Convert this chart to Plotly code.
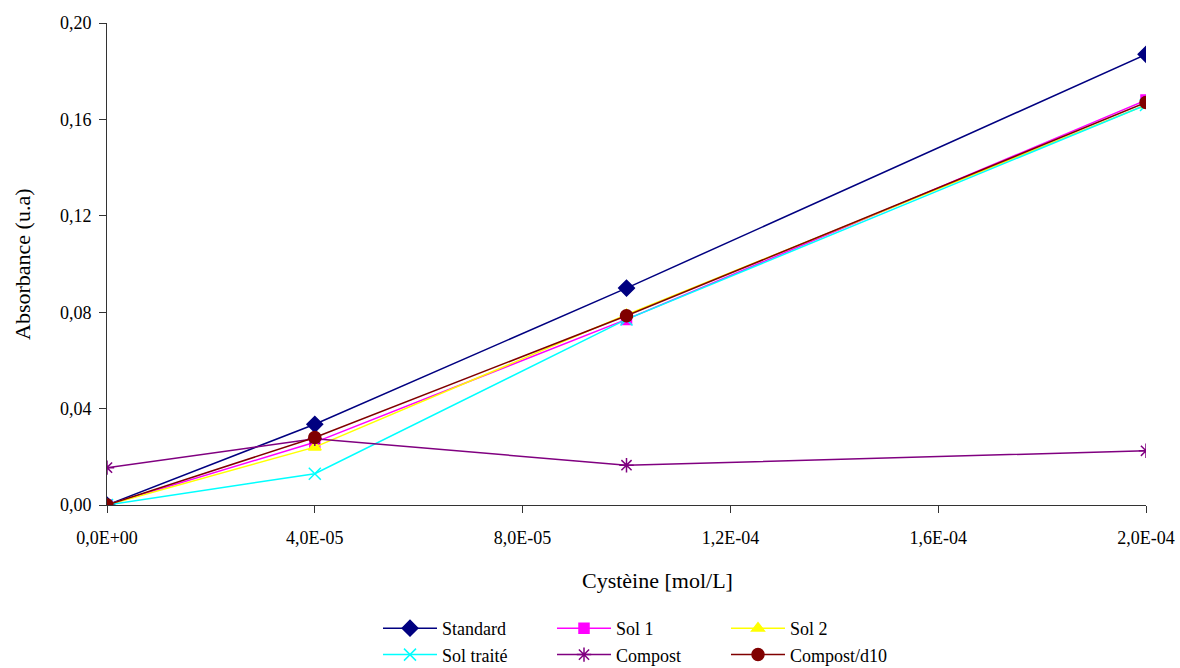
import plotly.graph_objects as go

x_vals = [0.0, 4e-5, 1e-4, 2e-4]
standard = [0.000, 0.0335, 0.090, 0.187]
sol1 = [0.000, 0.026, 0.077, 0.168]
sol2 = [0.000, 0.024, 0.079, 0.166]
sol_traite = [0.000, 0.013, 0.077, 0.166]
compost = [0.0155, 0.0275, 0.0165, 0.0225]
compost_d10 = [0.000, 0.028, 0.0785, 0.167]

x_tickvals = [0.0, 4e-5, 8e-5, 1.2e-4, 1.6e-4, 2e-4]
x_ticktext = ["0,0E+00", "4,0E-05", "8,0E-05", "1,2E-04", "1,6E-04", "2,0E-04"]
y_tickvals = [0.0, 0.04, 0.08, 0.12, 0.16, 0.20]
y_ticktext = ["0,00", "0,04", "0,08", "0,12", "0,16", "0,20"]

series = [
    ("Standard", standard, "#000080", "diamond", 12, "g1"),
    ("Sol 1", sol1, "#FF00FF", "square", 10, "g2"),
    ("Sol 2", sol2, "#FFFF00", "triangle-up", 11, "g3"),
    ("Sol traité", sol_traite, "#00FFFF", "x-thin-open", 12, "g1"),
    ("Compost", compost, "#800080", "asterisk-open", 12, "g2"),
    ("Compost/d10", compost_d10, "#800000", "circle", 12, "g3"),
]

FONT = "Liberation Serif"
fig = go.Figure()
for name, vals, color, sym, size, grp in series:
    fig.add_trace(go.Scatter(
        x=x_vals, y=vals, name=name, mode="lines+markers",
        legendgroup=grp,
        line=dict(color=color, width=1.5),
        marker=dict(symbol=sym, size=size, color=color,
                    line=dict(color=color, width=1.5)),
    ))

fig.update_layout(
    width=1180, height=668,
    margin=dict(l=107, r=34, t=23, b=163, autoexpand=False),
    paper_bgcolor="white", plot_bgcolor="white",
    font=dict(family=FONT, size=18, color="black"),
    showlegend=True,
    legend=dict(
        orientation="h", traceorder="grouped",
        x=(378 - 107) / 1039, xanchor="left",
        yref="container", y=1 - 610 / 668, yanchor="top",
        entrywidth=105, entrywidthmode="pixels", itemwidth=54,
        font=dict(family=FONT, size=18, color="black"),
        bgcolor="rgba(0,0,0,0)",
    ),
    xaxis=dict(
        range=[0, 2e-4], tickvals=x_tickvals, ticktext=x_ticktext,
        showgrid=False, zeroline=False, showline=True, linecolor="#333",
        linewidth=1, ticks="outside", ticklen=7, tickcolor="#333",
        ticklabelstandoff=9,
        tickfont=dict(family=FONT, size=18), automargin=False,
    ),
    yaxis=dict(
        range=[0, 0.20], tickvals=y_tickvals, ticktext=y_ticktext,
        showgrid=False, zeroline=False, showline=True, linecolor="#333",
        linewidth=1, ticks="outside", ticklen=7, tickcolor="#333",
        ticklabelstandoff=4,
        tickfont=dict(family=FONT, size=18), automargin=False,
    ),
    annotations=[
        dict(text="Cystèine [mol/L]", xref="paper", yref="paper",
             x=(657 - 107) / 1039, y=-(580 - 505) / 482,
             xanchor="center", yanchor="middle", showarrow=False,
             font=dict(family=FONT, size=22)),
        dict(text="Absorbance (u.a)", xref="paper", yref="paper",
             x=-(107 - 22) / 1039, y=0.5, textangle=-90,
             xanchor="center", yanchor="middle", showarrow=False,
             font=dict(family=FONT, size=22)),
    ],
)

fig.write_html("out.html", config={"displayModeBar": False},
               post_script="document.body.style.margin='0';document.body.style.padding='0';")
